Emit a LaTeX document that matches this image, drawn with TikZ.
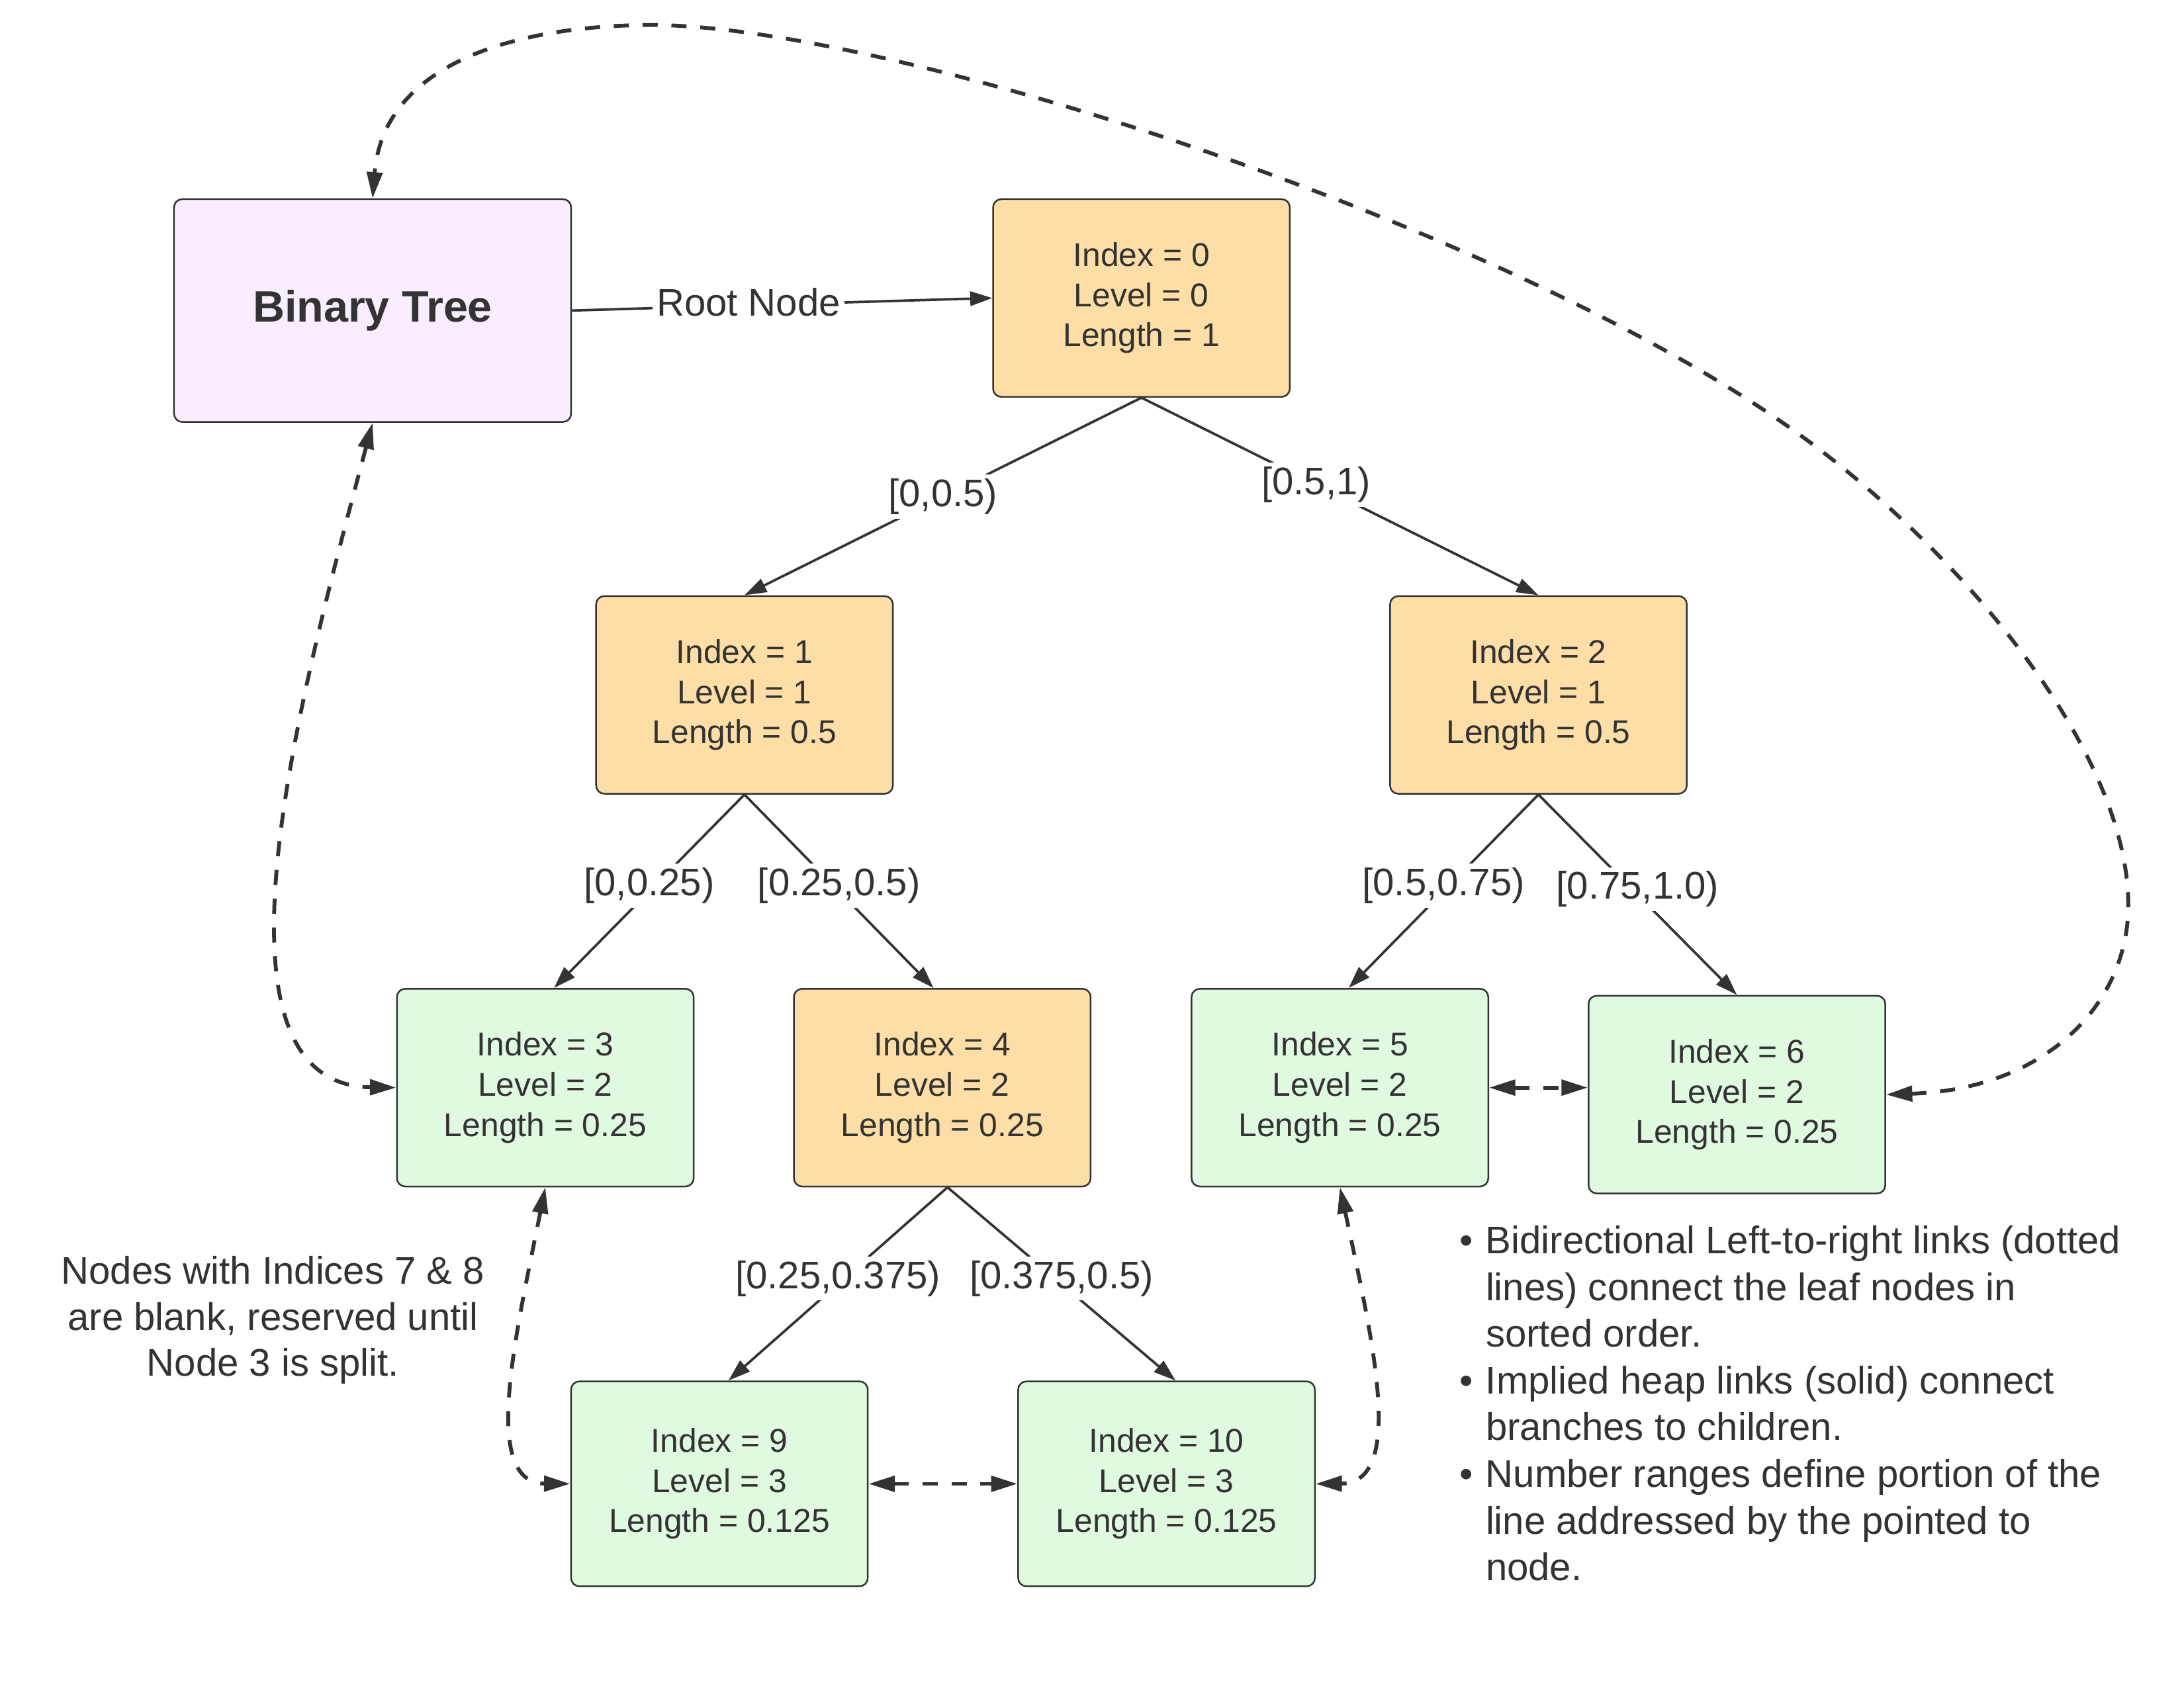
\documentclass[tikz,border=0pt]{standalone}
\usepackage{fontspec}
\setmainfont{Liberation Sans}
\usetikzlibrary{arrows.meta}

\tikzset{every picture/.style={line width=0.75pt}}
\tikzset{
	box/.style={draw={rgb, 255:red, 51; green, 51; blue, 51 }, line width=0.6pt, rounded corners=3pt, minimum width=107.6bp, minimum height=71.7bp, inner sep=0pt, align=center, text={rgb, 255:red, 51; green, 51; blue, 51 }, font=\fontsize{12}{14.6}\selectfont},
	branch/.style={box, fill={rgb, 255:red, 253; green, 222; blue, 166 }},
	leaf/.style={box, fill={rgb, 255:red, 224; green, 249; blue, 225 }},
	heap/.style={draw={rgb, 255:red, 51; green, 51; blue, 51 }, line width=0.9pt, -{Triangle[length=8bp,width=5.2bp]}},
	sibling/.style={draw={rgb, 255:red, 51; green, 51; blue, 51 }, line width=1.4pt, dash pattern={on 5.5pt off 5pt}, {Triangle[length=9.5bp,width=5.6bp]}-{Triangle[length=9.5bp,width=5.6bp]}},
	rangelbl/.style={fill=white, inner sep=1.5pt, text={rgb, 255:red, 51; green, 51; blue, 51 }, font=\fontsize{14}{16}\selectfont},
}

\begin{document}
\begin{tikzpicture}[x=0.5051bp,y=0.5051bp,yscale=-1]
	\useasboundingbox (0,0) rectangle (1568,1212);
	
	%Rounded Rect
	\node (bt) [box, fill={rgb, 255:red, 249; green, 238; blue, 255 }, minimum width=144bp, minimum height=80.8bp, font=\bfseries\fontsize{16}{19}\selectfont] at (267.5,223) {Binary Tree};
	%Rounded Rect
	\node (n0) [branch] at (819.5,214) {Index = 0\\Level = 0\\Length = 1};
	\node (n1) [branch] at (534.5,499) {Index = 1\\Level = 1\\Length = 0.5};
	\node (n2) [branch] at (1104.5,499) {Index = 2\\Level = 1\\Length = 0.5};
	\node (n4) [branch] at (676.5,781) {Index = 4\\Level = 2\\Length = 0.25};
	%Rounded Rect
	\node (n3) [leaf] at (391.5,781) {Index = 3\\Level = 2\\Length = 0.25};
	\node (n5) [leaf] at (962,781) {Index = 5\\Level = 2\\Length = 0.25};
	\node (n6) [leaf] at (1247,786) {Index = 6\\Level = 2\\Length = 0.25};
	\node (n9) [leaf, minimum height=74.3bp] at (516.5,1065.5) {Index = 9\\Level = 3\\Length = 0.125};
	\node (n10) [leaf, minimum height=74.3bp] at (837.5,1065.5) {Index = 10\\Level = 3\\Length = 0.125};
	
	%Straight Lines
	\draw [heap] (bt.east) -- node [rangelbl, pos=0.42, yshift=1bp] {Root Node} (n0.west);
	\draw [heap] (n0.south) -- node [rangelbl, pos=0.5] {[0,0.5)} (n1.north);
	\draw [heap] (n0.south) -- node [rangelbl, pos=0.44] {[0.5,1)} (n2.north);
	\draw [heap] (n1.south) -- node [rangelbl, pos=0.5, yshift=2bp] {[0,0.25)} (n3.85);
	\draw [heap] (n1.south) -- node [rangelbl, pos=0.5, yshift=2bp] {[0.25,0.5)} (n4.95);
	\draw [heap] (n2.south) -- node [rangelbl, pos=0.5, yshift=2bp] {[0.5,0.75)} (n5.85);
	\draw [heap] (n2.south) -- node [rangelbl, pos=0.5, yshift=2bp] {[0.75,1.0)} (n6.north);
	\draw [heap] (n4.-87) -- node [rangelbl, pos=0.5, yshift=2bp] {[0.25,0.375)} (n9.85);
	\draw [heap] (n4.-87) -- node [rangelbl, pos=0.5, yshift=2bp] {[0.375,0.5)} (n10.85);
	
	%Curve Lines
	\draw [sibling] (n6.east) .. controls (1470,782) and (1528,720) .. (1528,650) .. controls (1528,540) and (1410,400) .. (1300,318) .. controls (1095,165) and (630,14) .. (460,18) .. controls (360,20) and (275,50) .. (bt.north);
	\draw [sibling] (bt.south) .. controls (215,500) and (140,779) .. (n3.west);
	\draw [sibling] (n3.south) .. controls (370,960) and (345,1065) .. (n9.west);
	\draw [sibling] (n5.south) .. controls (985,960) and (1010,1065) .. (n10.east);
	%Straight Lines
	\draw [sibling] (n5.east) -- (n5.east -| n6.west);
	\draw [sibling] (n9.east) -- (n10.west);
	
	% Text Node
	\node (note) [align=center, inner sep=0pt, text={rgb, 255:red, 51; green, 51; blue, 51 }, font=\fontsize{14}{16.7}\selectfont] at (196,948) {Nodes with Indices 7 \& 8\\are blank, reserved until\\Node 3 is split.};
	% Text Node
	\node (legend) [anchor=north west, inner sep=0pt, text={rgb, 255:red, 51; green, 51; blue, 51 }, font=\fontsize{14}{17}\selectfont] at (1047,876) {\begin{tabular}{@{}l@{\hspace{4.7bp}}l@{}}
		\textbullet & Bidirectional Left-to-right links (dotted\\
		& lines) connect the leaf nodes in\\
		& sorted order.\\
		\textbullet & Implied heap links (solid) connect\\
		& branches to children.\\
		\textbullet & Number ranges define portion of the\\
		& line addressed by the pointed to\\
		& node.
	\end{tabular}};
	
\end{tikzpicture}
\end{document}
